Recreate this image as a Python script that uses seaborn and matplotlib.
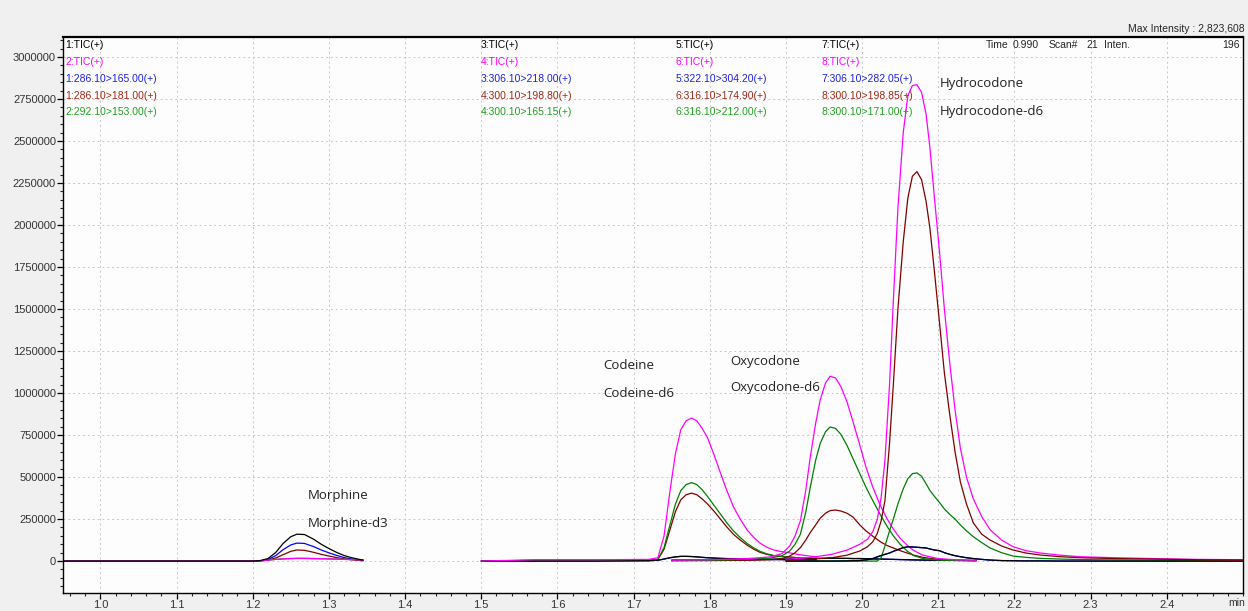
import matplotlib
matplotlib.use("Agg")
import numpy as np
import pandas as pd
import seaborn as sns
import matplotlib.pyplot as plt
from matplotlib import font_manager
from matplotlib.ticker import MultipleLocator, FuncFormatter

# --- data (time in min, intensity in counts) ---
# segment 1/2 : morphine
tA = [0.951, 1.200, 1.210, 1.220, 1.230, 1.240, 1.250, 1.258, 1.268, 1.280, 1.290,
      1.300, 1.310, 1.320, 1.330, 1.340, 1.345]
morph_tic1 = [0, 0, 3000, 15000, 50000, 105000, 145000, 160000, 158000, 130000, 100000,
              75000, 52000, 33000, 20000, 10000, 6000]
morph_165 = [0, 0, 2000, 9000, 32000, 68000, 96000, 107000, 105000, 86000, 66000,
             49000, 34000, 21000, 12000, 6000, 3000]
morph_181 = [0, 0, 1000, 6000, 18000, 38000, 58000, 66000, 64000, 52000, 40000,
             30000, 21000, 13000, 8000, 4000, 2000]
morph_tic2 = [0, 0, 2000, 6000, 10000, 13000, 15000, 16000, 16000, 15000, 14000,
              13000, 12000, 10000, 9000, 7000, 6000]
morph_153 = [0, 0, 2000, 6000, 10000, 13000, 15000, 16000, 16000, 15000, 14000,
             13000, 12000, 10000, 9000, 7000, 6000]

# segment 3/4 : codeine
tB = [1.500, 1.570, 1.650, 1.720, 1.732, 1.740, 1.748, 1.755, 1.762, 1.769, 1.776,
      1.783, 1.790, 1.797, 1.805, 1.814, 1.822, 1.831, 1.840, 1.849, 1.858, 1.866,
      1.875, 1.884, 1.892, 1.901, 1.915, 1.930, 1.940]
cod_tic4 = [0, 8000, 8000, 10000, 20000, 150000, 424000, 640000, 782000, 835000, 851000,
            835000, 790000, 735000, 640000, 525000, 425000, 324000, 250000, 185000, 140000,
            107000, 82000, 66000, 58000, 52000, 40000, 30000, 25000]
cod_165 = [0, 4000, 4000, 5000, 10000, 80000, 220000, 340000, 420000, 455000, 467000,
           455000, 425000, 385000, 335000, 280000, 230000, 180000, 140000, 105000, 78000,
           58000, 43000, 33000, 28000, 25000, 20000, 15000, 12000]
cod_198 = [0, 4000, 4000, 5000, 10000, 70000, 190000, 295000, 365000, 395000, 404000,
           395000, 370000, 340000, 300000, 250000, 205000, 160000, 125000, 95000, 70000,
           52000, 40000, 32000, 28000, 25000, 20000, 15000, 12000]
cod_tic3 = [0, 0, 0, 2000, 5000, 12000, 20000, 25000, 28000, 28000, 27000,
            25000, 22000, 20000, 18000, 16000, 15000, 14000, 13000, 12000, 11000,
            10000, 10000, 9000, 9000, 8000, 8000, 7000, 6000]
cod_218 = [0, 0, 0, 2000, 5000, 12000, 20000, 25000, 28000, 28000, 27000,
           25000, 22000, 20000, 18000, 16000, 15000, 14000, 13000, 12000, 11000,
           10000, 10000, 9000, 9000, 8000, 8000, 7000, 6000]

# segment 5/6 : oxycodone
tC = [1.750, 1.800, 1.850, 1.880, 1.895, 1.905, 1.912, 1.919, 1.926, 1.932, 1.939,
      1.945, 1.952, 1.958, 1.965, 1.972, 1.980, 1.988, 1.997, 2.005, 2.014, 2.024,
      2.033, 2.041, 2.050, 2.059, 2.068, 2.080, 2.100, 2.125, 2.150]
oxy_tic6 = [5000, 8000, 15000, 25000, 45000, 90000, 150000, 240000, 420000, 620000, 820000,
            960000, 1060000, 1100000, 1090000, 1040000, 950000, 830000, 690000, 560000, 440000,
            330000, 250000, 190000, 135000, 95000, 62000, 35000, 15000, 7000, 5000]
oxy_212 = [3000, 5000, 10000, 18000, 32000, 60000, 100000, 160000, 290000, 440000, 600000,
           700000, 770000, 798000, 790000, 755000, 690000, 610000, 520000, 440000, 360000,
           275000, 205000, 150000, 100000, 60000, 32000, 15000, 6000, 3000, 2000]
oxy_174 = [2000, 3000, 5000, 8000, 15000, 30000, 50000, 80000, 125000, 170000, 215000,
           255000, 285000, 300000, 304000, 298000, 285000, 262000, 215000, 180000, 148000,
           115000, 92000, 78000, 62000, 48000, 35000, 22000, 10000, 5000, 3000]
oxy_tic5 = [5000, 6000, 8000, 10000, 11000, 12000, 13000, 14000, 15000, 15000, 16000,
            16000, 16000, 17000, 17000, 16000, 16000, 15000, 15000, 14000, 13000,
            12000, 11000, 10000, 9000, 8000, 7000, 6000, 5000, 4000, 3000]
oxy_304 = oxy_tic5

# segment 7/8 : hydrocodone
tD = [1.900, 1.930, 1.960, 1.980, 1.997, 2.007, 2.014, 2.020, 2.025, 2.030, 2.036,
      2.041, 2.047, 2.054, 2.060, 2.066, 2.072, 2.078, 2.084, 2.089, 2.095, 2.102,
      2.108, 2.115, 2.122, 2.129, 2.137, 2.146, 2.157, 2.168, 2.183, 2.198, 2.215,
      2.234, 2.260, 2.286, 2.330, 2.380, 2.440, 2.500]
hyd_tic8 = [10000, 20000, 40000, 65000, 100000, 130000, 175000, 250000, 380000, 600000, 1050000,
            1550000, 2100000, 2550000, 2770000, 2830000, 2835000, 2790000, 2660000, 2460000, 2160000, 1820000,
            1500000, 1180000, 900000, 671000, 500000, 370000, 265000, 187000, 125000, 86000, 62000,
            48000, 35000, 26000, 20000, 15000, 10000, 8000]
hyd_198 = [5000, 10000, 20000, 35000, 60000, 85000, 115000, 165000, 240000, 360000, 700000,
           1050000, 1500000, 1900000, 2160000, 2290000, 2318000, 2270000, 2140000, 1981000, 1720000, 1400000,
           1120000, 873000, 650000, 471000, 340000, 227000, 160000, 125000, 90000, 66000, 48000,
           36000, 26000, 20000, 15000, 12000, 8000, 6000]
hyd_171 = [0, 0, 0, 0, 0, 0, 0, 0, 20000, 90000, 180000,
           250000, 340000, 430000, 490000, 520000, 525000, 505000, 460000, 420000, 385000, 346000,
           310000, 278000, 250000, 215000, 180000, 145000, 110000, 78000, 50000, 30000, 22000,
           16000, 12000, 9000, 7000, 5000, 4000, 3000]
hyd_tic7 = [0, 0, 0, 1000, 3000, 8000, 15000, 25000, 33000, 40000, 48000,
            58000, 68000, 80000, 85000, 84000, 82000, 80000, 78000, 72000, 66000, 61000,
            50000, 40000, 32000, 26000, 20000, 15000, 10000, 6000, 3000, 2000, 1000,
            1000, 0, 0, 0, 0, 0, 0]
hyd_282 = hyd_tic7

y_ticks = [0, 250000, 500000, 750000, 1000000, 1250000, 1500000, 1750000, 2000000,
           2250000, 2500000, 2750000, 3000000]
x_ticks = [1.0, 1.1, 1.2, 1.3, 1.4, 1.5, 1.6, 1.7, 1.8, 1.9, 2.0, 2.1, 2.2, 2.3, 2.4]

header_cols = [
    ["1:TIC(+)", "2:TIC(+)", "1:286.10>165.00(+)", "1:286.10>181.00(+)", "2:292.10>153.00(+)"],
    ["3:TIC(+)", "4:TIC(+)", "3:306.10>218.00(+)", "4:300.10>198.80(+)", "4:300.10>165.15(+)"],
    ["5:TIC(+)", "6:TIC(+)", "5:322.10>304.20(+)", "6:316.10>174.90(+)", "6:316.10>212.00(+)"],
    ["7:TIC(+)", "8:TIC(+)", "7:306.10>282.05(+)", "8:300.10>198.85(+)", "8:300.10>171.00(+)"],
]

colors = {"tic_a": "#000000", "tic_b": "#ff00ff", "q1": "#0000ff", "q2": "#800000", "q3": "#008000"}
text_colors = ["#000000", "#ff00ff", "#2020e0", "#a02818", "#20a020"]

# (name, time grid, values, channel)
traces = [
    ("A_q1", tA, morph_165, "q1"), ("A_q2", tA, morph_181, "q2"), ("A_q3", tA, morph_153, "q3"),
    ("A_ticb", tA, morph_tic2, "tic_b"), ("A_tica", tA, morph_tic1, "tic_a"),
    ("B_q1", tB, cod_218, "q1"), ("B_q2", tB, cod_198, "q2"), ("B_q3", tB, cod_165, "q3"),
    ("B_tica", tB, cod_tic3, "tic_a"), ("B_ticb", tB, cod_tic4, "tic_b"),
    ("C_q1", tC, oxy_304, "q1"), ("C_tica", tC, oxy_tic5, "tic_a"), ("C_q2", tC, oxy_174, "q2"),
    ("C_q3", tC, oxy_212, "q3"), ("C_ticb", tC, oxy_tic6, "tic_b"),
    ("D_q1", tD, hyd_282, "q1"), ("D_q3", tD, hyd_171, "q3"), ("D_tica", tD, hyd_tic7, "tic_a"),
    ("D_ticb", tD, hyd_tic8, "tic_b"), ("D_q2", tD, hyd_198, "q2"),
]

frames = []
for name, t, v, ch in traces:
    frames.append(pd.DataFrame({"time": t, "intensity": v, "trace": name}))
df = pd.concat(frames, ignore_index=True)
order = [tr[0] for tr in traces]
palette = {tr[0]: colors[tr[3]] for tr in traces}

sns.set_style("white")


def pick_font(names, default="DejaVu Sans"):
    for n in names:
        try:
            font_manager.findfont(n, fallback_to_default=False)
            return n
        except Exception:
            pass
    return default


narrow = pick_font(["Liberation Sans Narrow", "Arial Narrow", "Liberation Sans"])
label_font = pick_font(["Open Sans", "Noto Sans"])
plt.rcParams["font.family"] = [narrow, "DejaVu Sans"]

fig = plt.figure(figsize=(12.48, 6.11), dpi=100, facecolor="#f0f0f0")
ax = fig.add_axes([63 / 1248, 1 - 593 / 611, 1180 / 1248, 556 / 611])
ax.set_facecolor("#fdfdfd")

sns.lineplot(data=df, x="time", y="intensity", hue="trace", hue_order=order,
             palette=palette, estimator=None, sort=False, legend=False,
             linewidth=0.9, ax=ax)

ax.set_xlim(0.951, 2.50)
ax.set_ylim(-190000, 3119000)
ax.set_xticks(x_ticks)
ax.set_xticklabels([f"{v:.1f}" for v in x_ticks])
ax.set_yticks(y_ticks)
ax.yaxis.set_major_formatter(FuncFormatter(lambda v, p: f"{int(v)}"))
ax.xaxis.set_minor_locator(MultipleLocator(0.02))
ax.yaxis.set_minor_locator(MultipleLocator(50000))
ax.tick_params(which="major", direction="out", length=4, width=0.9, labelsize=8,
               left=True, bottom=True, pad=1, colors="#000000")
ax.tick_params(which="minor", direction="out", length=2.5, width=0.8, left=True, bottom=True)
for lab in ax.get_xticklabels() + ax.get_yticklabels():
    lab.set_color("#333333")
ax.set_xlabel("")
ax.set_ylabel("")
ax.grid(True, which="major", color="#c8c8c8", linestyle=(0, (2, 3)), linewidth=0.7)
for s in ax.spines.values():
    s.set_color("#000000")
    s.set_linewidth(1.0)
ax.spines["top"].set_linewidth(1.6)

# header block with trace names
col_x = [0.0017, 0.354, 0.519, 0.643]
row_y = [0.9856, 0.955, 0.9245, 0.894, 0.865]
for cx, col in zip(col_x, header_cols):
    for ry, txt, c in zip(row_y, col, text_colors):
        ax.text(cx, ry, txt, transform=ax.transAxes, fontsize=7.5, color=c,
                ha="left", va="center")

for x, txt in [(0.782, "Time"), (0.805, "0.990"), (0.835, "Scan#"), (0.867, "21"), (0.882, "Inten.")]:
    ax.text(x, 0.9856, txt, transform=ax.transAxes, fontsize=7.5, ha="left", va="center")
ax.text(0.9975, 0.9856, "196", transform=ax.transAxes, fontsize=7.5, ha="right", va="center")
fig.text(0.9976, 0.9525, "Max Intensity : 2,823,608", fontsize=7.5, ha="right", va="center")
ax.text(0.995, -0.018, "min", transform=ax.transAxes, fontsize=7.5, ha="center", va="center",
        color="#333333")

# compound labels
labels = [
    (1.2717, 392800, "Morphine"), (1.2717, 222000, "Morphine-d3"),
    (1.6601, 1166600, "Codeine"), (1.6601, 1000000, "Codeine-d6"),
    (1.8268, 1190000, "Oxycodone"), (1.8268, 1035600, "Oxycodone-d6"),
    (2.1024, 2845000, "Hydrocodone"), (2.1024, 2678000, "Hydrocodone-d6"),
]
for x, y, txt in labels:
    ax.text(x, y, txt, fontsize=9.5, family=label_font, color="#222222",
            ha="left", va="center")

fig.savefig("out.png", dpi=100, facecolor=fig.get_facecolor())
